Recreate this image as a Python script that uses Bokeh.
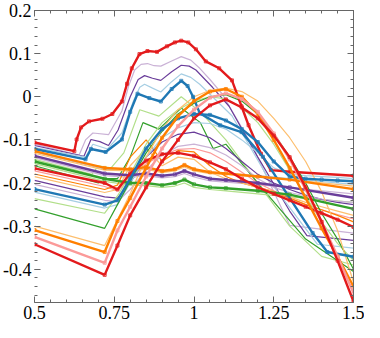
from bokeh.plotting import figure
from bokeh.models import LinearAxis, FixedTicker, CustomJSTickFormatter, Range1d
from bokeh.embed import file_html
from bokeh.resources import INLINE

# ---------------- data ----------------
# large-hump family
x_h_red = [0.5, 0.625, 0.632, 0.646, 0.671, 0.713, 0.744, 0.774, 0.79, 0.805, 0.829, 0.854, 0.884, 0.915, 0.94, 0.96, 0.982, 1.006, 1.037, 1.079, 1.119, 1.149, 1.171, 1.21, 1.241, 1.302, 1.5]
y_h_red = [-0.106, -0.126, -0.099, -0.071, -0.057, -0.051, -0.040, -0.011, 0.030, 0.066, 0.099, 0.106, 0.104, 0.117, 0.126, 0.130, 0.126, 0.110, 0.082, 0.066, 0.038, -0.022, -0.066, -0.132, -0.170, -0.174, -0.183]
x_h_lp = [0.5, 0.64, 0.66, 0.683, 0.732, 0.774, 0.795, 0.814, 0.834, 0.854, 0.875, 0.896, 0.93, 0.96, 0.99, 1.018, 1.05, 1.088, 1.18, 1.25, 1.30, 1.5]
y_h_lp = [-0.110, -0.135, -0.100, -0.084, -0.088, -0.033, 0.025, 0.062, 0.075, 0.077, 0.072, 0.071, 0.083, 0.093, 0.085, 0.066, 0.040, 0.007, -0.110, -0.220, -0.298, -0.316]
x_h_p = [0.5, 0.655, 0.677, 0.705, 0.732, 0.762, 0.80, 0.825, 0.845, 0.87, 0.896, 0.93, 0.96, 0.985, 1.006, 1.058, 1.11, 1.20, 1.30, 1.354, 1.5]
y_h_p = [-0.113, -0.138, -0.099, -0.104, -0.113, -0.077, 0.0, 0.040, 0.049, 0.043, 0.038, 0.058, 0.073, 0.071, 0.062, 0.022, -0.022, -0.14, -0.265, -0.322, -0.333]
x_h_lb = [0.5, 0.66, 0.683, 0.729, 0.774, 0.81, 0.83, 0.845, 0.87, 0.896, 0.93, 0.96, 0.99, 1.018, 1.119, 1.241, 1.387, 1.5]
y_h_lb = [-0.118, -0.14, -0.110, -0.121, -0.084, -0.01, 0.022, 0.029, 0.020, 0.011, 0.035, 0.053, 0.045, 0.029, -0.044, -0.199, -0.342, -0.351]
x_h_b = [0.5, 0.66, 0.677, 0.723, 0.774, 0.80, 0.823, 0.86, 0.896, 0.93, 0.96, 0.98, 0.997, 1.018, 1.082, 1.149, 1.216, 1.293, 1.372, 1.418, 1.5]
y_h_b = [-0.121, -0.145, -0.121, -0.128, -0.099, -0.035, 0.007, -0.003, -0.011, 0.018, 0.037, 0.025, 0.0, -0.038, -0.066, -0.082, -0.139, -0.227, -0.316, -0.360, -0.371]
x_h_lg = [0.5, 0.68, 0.7, 0.74, 0.78, 0.83, 0.89, 0.96, 1.02, 1.1, 1.2, 1.3, 1.4, 1.5]
y_h_lg = [-0.145, -0.18, -0.16, -0.165, -0.13, -0.03, -0.045, 0.0, -0.035, -0.1, -0.2, -0.3, -0.37, -0.39]
x_h_g = [0.5, 0.7, 0.72, 0.76, 0.8, 0.84, 0.89, 0.96, 1.02, 1.06, 1.1, 1.2, 1.35, 1.5]
y_h_g = [-0.16, -0.2, -0.19, -0.19, -0.14, -0.06, -0.075, -0.026, -0.06, -0.12, -0.11, -0.2, -0.33, -0.405]

# flat bundle family
x_flat = [0.5, 0.72, 0.8, 0.85, 0.9, 0.94, 0.97, 1.0, 1.05, 1.1, 1.2, 1.3, 1.5]
y_f_lblue = [-0.128, -0.168, -0.172, -0.166, -0.174, -0.170, -0.160, -0.170, -0.176, -0.178, -0.183, -0.190, -0.203]
y_f_orange = [-0.126, -0.165, -0.168, -0.163, -0.172, -0.168, -0.158, -0.168, -0.175, -0.178, -0.185, -0.192, -0.214]
y_f_lorange = [-0.131, -0.170, -0.172, -0.168, -0.176, -0.172, -0.163, -0.172, -0.178, -0.180, -0.186, -0.192, -0.207]
y_f_purple = [-0.137, -0.178, -0.182, -0.178, -0.183, -0.180, -0.172, -0.180, -0.190, -0.193, -0.200, -0.210, -0.234]
y_f_lpurple = [-0.141, -0.183, -0.187, -0.183, -0.188, -0.185, -0.178, -0.186, -0.195, -0.198, -0.204, -0.211, -0.225]
y_f_green = [-0.150, -0.190, -0.200, -0.200, -0.205, -0.200, -0.192, -0.203, -0.210, -0.212, -0.218, -0.227, -0.260]
y_f_lgreen = [-0.155, -0.196, -0.205, -0.206, -0.210, -0.207, -0.200, -0.210, -0.215, -0.218, -0.225, -0.232, -0.245]

# V-shaped family
x_v = [0.5, 0.72, 0.76, 0.8, 0.85, 0.9, 0.95, 1.0, 1.05, 1.1, 1.15, 1.2, 1.25, 1.3, 1.35, 1.4, 1.45, 1.5]
y_vu_red = [-0.166, -0.200, -0.215, -0.178, -0.148, -0.133, -0.130, -0.137, -0.152, -0.168, -0.190, -0.210, -0.225, -0.240, -0.255, -0.270, -0.285, -0.302]
y_vu_pink = [-0.172, -0.208, -0.218, -0.190, -0.155, -0.135, -0.122, -0.120, -0.130, -0.150, -0.175, -0.200, -0.218, -0.235, -0.250, -0.262, -0.273, -0.283]
y_vu_orange = [-0.179, -0.215, -0.205, -0.140, -0.100, -0.150, -0.125, -0.128, -0.160, -0.185, -0.200, -0.210, -0.220, -0.235, -0.250, -0.262, -0.275, -0.290]
y_vu_lorange = [-0.185, -0.222, -0.215, -0.160, -0.120, -0.160, -0.140, -0.145, -0.175, -0.190, -0.200, -0.210, -0.220, -0.232, -0.245, -0.255, -0.265, -0.275]
y_vu_purple = [-0.194, -0.232, -0.235, -0.200, -0.140, -0.105, -0.087, -0.082, -0.095, -0.120, -0.150, -0.180, -0.200, -0.215, -0.228, -0.238, -0.245, -0.250]
y_vu_lpurple = [-0.203, -0.240, -0.243, -0.215, -0.170, -0.135, -0.115, -0.110, -0.118, -0.135, -0.160, -0.190, -0.210, -0.222, -0.230, -0.237, -0.242, -0.245]
y_vu_blue = [-0.214, -0.250, -0.240, -0.190, -0.120, -0.075, -0.050, -0.040, -0.042, -0.055, -0.075, -0.105, -0.150, -0.185, -0.190, -0.192, -0.194, -0.196]
y_vu_lblue = [-0.221, -0.258, -0.250, -0.200, -0.140, -0.095, -0.072, -0.060, -0.062, -0.075, -0.100, -0.130, -0.165, -0.180, -0.183, -0.185, -0.187, -0.190]
y_vl_lgreen = [-0.236, -0.270, -0.230, -0.180, -0.110, -0.060, -0.030, -0.010, 0.000, -0.005, -0.025, -0.060, -0.110, -0.170, -0.230, -0.290, -0.340, -0.380]
y_vl_green = [-0.260, -0.305, -0.250, -0.195, -0.130, -0.080, -0.040, -0.015, 0.000, 0.005, -0.010, -0.040, -0.085, -0.140, -0.200, -0.270, -0.330, -0.400]
y_vl_lorange = [-0.300, -0.345, -0.285, -0.225, -0.140, -0.075, -0.030, 0.000, 0.015, 0.020, 0.012, -0.010, -0.050, -0.095, -0.150, -0.220, -0.310, -0.430]
y_vl_orange = [-0.309, -0.360, -0.288, -0.235, -0.165, -0.095, -0.045, -0.010, 0.012, 0.018, 0.000, -0.040, -0.100, -0.165, -0.235, -0.305, -0.370, -0.440]
y_vl_pink = [-0.325, -0.385, -0.310, -0.255, -0.185, -0.120, -0.068, -0.030, -0.002, 0.008, -0.005, -0.035, -0.085, -0.145, -0.215, -0.290, -0.370, -0.455]
y_vl_red = [-0.342, -0.413, -0.345, -0.275, -0.210, -0.150, -0.100, -0.050, -0.020, -0.006, -0.025, -0.050, -0.090, -0.140, -0.210, -0.290, -0.380, -0.475]

# axes ticks
x_major_ticks = [0.5, 0.75, 1.0, 1.25, 1.5]
y_major_ticks = [-0.4, -0.3, -0.2, -0.1, 0.0, 0.1, 0.2]

# ---------------- styles ----------------
LB, B, LG, G = "#a6cee3", "#1f78b4", "#b2df8a", "#33a02c"
PK, R, LO, O = "#fb9a99", "#e31a1c", "#fdbf6f", "#ff7f00"
LP, P = "#cab2d6", "#6a3d9a"

curves = [
    (x_h_red, y_h_red, R, True), (x_h_lp, y_h_lp, LP, False), (x_h_p, y_h_p, P, False),
    (x_h_lb, y_h_lb, LB, False), (x_h_b, y_h_b, B, True), (x_h_lg, y_h_lg, LG, False),
    (x_h_g, y_h_g, G, False),
    (x_flat, y_f_lblue, LB, False), (x_flat, y_f_orange, O, True), (x_flat, y_f_lorange, LO, False),
    (x_flat, y_f_purple, P, True), (x_flat, y_f_lpurple, LP, False), (x_flat, y_f_green, G, True),
    (x_flat, y_f_lgreen, LG, False),
    (x_v, y_vu_red, R, True), (x_v, y_vu_pink, PK, False), (x_v, y_vu_orange, O, False),
    (x_v, y_vu_lorange, LO, False), (x_v, y_vu_purple, P, False), (x_v, y_vu_lpurple, LP, False),
    (x_v, y_vu_blue, B, True), (x_v, y_vu_lblue, LB, False),
    (x_v, y_vl_lgreen, LG, False), (x_v, y_vl_green, G, False), (x_v, y_vl_lorange, LO, False),
    (x_v, y_vl_orange, O, True), (x_v, y_vl_pink, PK, True), (x_v, y_vl_red, R, True),
]

p = figure(width=364, height=322, x_range=Range1d(0.5, 1.5), y_range=Range1d(-0.477, 0.2),
           output_backend="svg", toolbar_location=None, x_axis_type=None, y_axis_type=None,
           min_border_left=28, min_border_right=11, min_border_top=10, min_border_bottom=20)
p.outline_line_color = None
p.background_fill_color = "white"

for xs, ys, c, marked in curves:
    if not marked:
        p.line(xs, ys, line_color=c, line_width=1.2)
for xs, ys, c, marked in curves:
    if marked:
        p.line(xs, ys, line_color=c, line_width=2.4)
        p.scatter(xs, ys, marker="square", size=3, fill_color=None, line_color=c, line_width=0.8)

fmt = CustomJSTickFormatter(code="""
var s = tick.toFixed(2);
s = s.replace(/0+$/, '');
s = s.replace(/\\.$/, '');
if (s === '-0') { s = '0'; }
return s;
""")
blank = CustomJSTickFormatter(code="return '';")

x_minor = [round(0.5 + 0.05 * i, 2) for i in range(21)]
y_minor = [round(-0.46 + 0.02 * i, 2) for i in range(34)]

AX = "#666666"
def make_axis(ticks, minor, formatter, show_line=True, labels=True):
    ax = LinearAxis(ticker=FixedTicker(ticks=ticks, minor_ticks=minor), formatter=formatter)
    ax.axis_line_color = AX if show_line else None
    ax.major_tick_line_color = AX
    ax.minor_tick_line_color = AX
    ax.major_tick_in = 6
    ax.major_tick_out = 0
    ax.minor_tick_in = 3
    ax.minor_tick_out = 0
    ax.major_label_text_font = "Liberation Serif"
    ax.major_label_text_color = "black"
    if labels:
        ax.major_label_text_font_size = "18px"
        ax.major_label_standoff = 3
    else:
        ax.major_label_text_font_size = "1px"
        ax.major_label_standoff = 0
    return ax

p.add_layout(make_axis(x_major_ticks, x_minor, fmt), "below")
p.add_layout(make_axis(x_major_ticks, x_minor, blank, labels=False), "above")
p.add_layout(make_axis(y_major_ticks, y_minor, fmt, show_line=False), "left")
p.add_layout(make_axis(y_major_ticks, y_minor, blank, labels=False), "right")

open("out.html", "w").write(file_html(p, INLINE))
